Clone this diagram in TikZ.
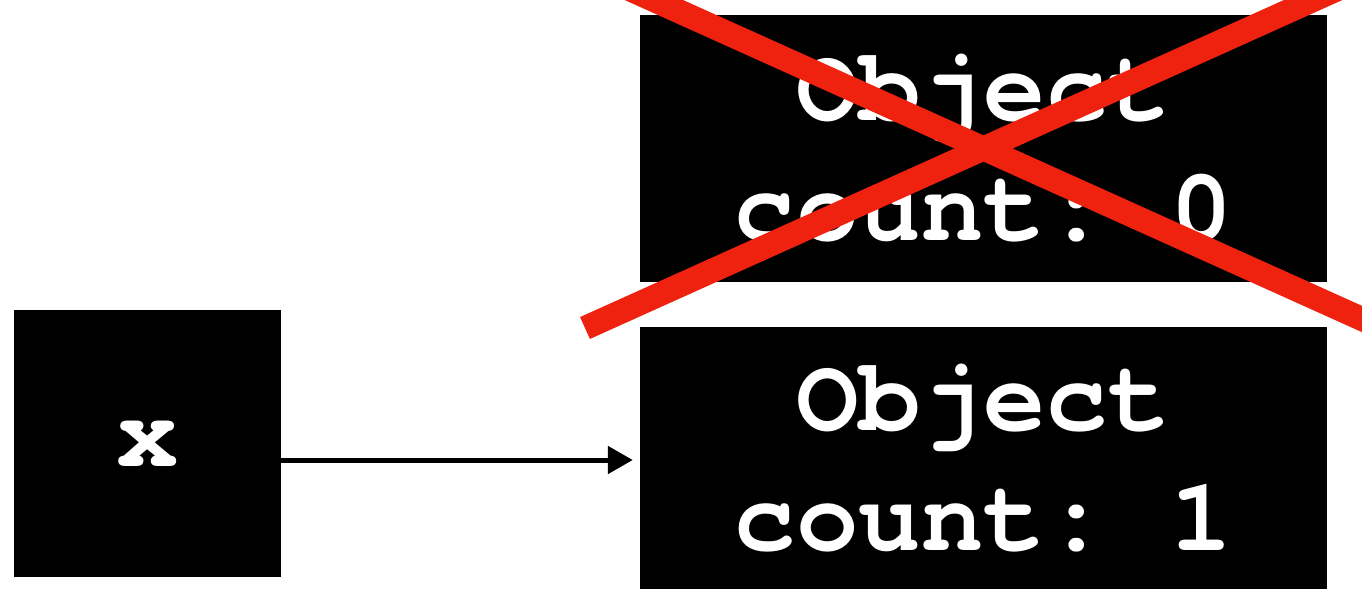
\documentclass[tikz,border=0pt]{standalone}
\usepackage{fontspec}
\setmonofont{TeX Gyre Cursor}
\usetikzlibrary{arrows.meta,calc}
\definecolor{crossred}{RGB}{238,34,15}
\tikzset{
    objbox/.style={fill=black, text=white, inner sep=0pt, align=center,
        font=\ttfamily\bfseries\fontsize{104}{120}\selectfont},
}
\begin{document}
\begin{tikzpicture}[x=1pt, y=1pt]
        \clip (0,0) rectangle (1362,-589);
        \fill[white] (0,0) rectangle (1362,-589);
        \node[objbox, minimum width=267pt, minimum height=267pt] (x) at (147.5,-443.5) {x};
        \node[objbox, minimum width=687pt, minimum height=267pt] (old) at (983.5,-148.5) {Object\\count: 0};
        \node[objbox, minimum width=687pt, minimum height=262pt] (new) at (983.5,-458) {Object\\count: 1};
        \coordinate (tip) at ($(new.west |- 0,-460)+(-7,0)$);
        \draw[line width=5pt, -{Triangle[length=25pt, width=27pt]}] (x.east |- tip) -- (tip);
        \draw[line width=24pt, color=crossred] ($(old.center)+(-398.5,179.5)$) -- ($(old.center)+(398.5,-179.5)$);
        \draw[line width=24pt, color=crossred] ($(old.center)+(-398.5,-179.5)$) -- ($(old.center)+(398.5,179.5)$);
    \end{tikzpicture}
\end{document}
